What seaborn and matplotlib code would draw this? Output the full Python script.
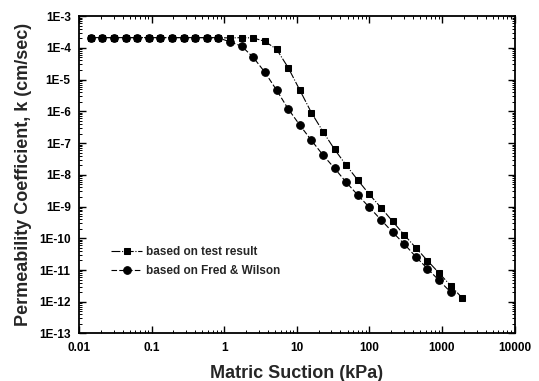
# permeability vs matric suction, log-log, two series
import numpy as np
import pandas as pd
import matplotlib
matplotlib.use('Agg')
import matplotlib.pyplot as plt
import seaborn as sns
from matplotlib.ticker import FixedLocator, FixedFormatter, LogLocator, NullFormatter

# data
# -----------------------------------------------------------------------------
suction = [0.0145, 0.0209, 0.0303, 0.0438, 0.0632, 0.0914, 0.132, 0.191,
           0.276, 0.399, 0.577, 0.834, 1.205, 1.742, 2.518, 3.639, 5.26,
           7.60, 10.99, 15.9, 22.96, 33.2, 48.0, 69.3, 100.2, 144.9, 209.4,
           302.7, 437.5, 632.4, 914.1, 1321, 1910]

k_test = [2.1e-4, 2.1e-4, 2.1e-4, 2.1e-4, 2.1e-4, 2.1e-4, 2.1e-4, 2.1e-4,
          2.1e-4, 2.1e-4, 2.1e-4, 2.1e-4, 2.05e-4, 2.1e-4, 2.05e-4, 1.6e-4,
          9.1e-5, 2.4e-5, 4.7e-6, 9.1e-7, 2.3e-7, 6.3e-8, 2.0e-8, 6.8e-9,
          2.4e-9, 9.2e-10, 3.4e-10, 1.27e-10, 5.0e-11, 1.96e-11, 8.0e-12,
          3.2e-12, 1.3e-12]

k_fred = [2.1e-4, 2.1e-4, 2.1e-4, 2.1e-4, 2.1e-4, 2.1e-4, 2.1e-4, 2.1e-4,
          2.1e-4, 2.1e-4, 2.1e-4, 2.05e-4, 1.55e-4, 1.13e-4, 5.0e-5, 1.7e-5,
          4.7e-6, 1.2e-6, 3.7e-7, 1.22e-7, 4.2e-8, 1.6e-8, 5.8e-9, 2.3e-9,
          9.4e-10, 3.8e-10, 1.55e-10, 6.6e-11, 2.6e-11, 1.1e-11, 4.7e-12,
          2.0e-12]

x_ticks = [0.01, 0.1, 1, 10, 100, 1000, 10000]
x_labels = ['0.01', '0.1', '1', '10', '100', '1000', '10000']
y_ticks = [10.0 ** e for e in range(-13, -2)]
y_labels = ['1E%d' % e for e in range(-13, -2)]
# -----------------------------------------------------------------------------

sns.set_style('ticks')
plt.rcParams['font.family'] = ['Liberation Sans', 'DejaVu Sans']
plt.rcParams['font.weight'] = 'bold'

df_test = pd.DataFrame({'suction': suction, 'k': k_test})
df_fred = pd.DataFrame({'suction': suction[:len(k_fred)], 'k': k_fred})

fig = plt.figure(figsize=(5.39, 3.81), dpi=100)
ax = fig.add_axes([0.1466, 0.1247, 0.808, 0.833])

sns.lineplot(data=df_test, x='suction', y='k', ax=ax,
             color='black', marker='s', markersize=5,
             markeredgecolor='black', linewidth=0.8,
             linestyle=(0, (8, 1.5, 1, 1.5)),
             label='based on test result')
sns.lineplot(data=df_fred, x='suction', y='k', ax=ax,
             color='black', marker='o', markersize=5.5,
             markeredgecolor='black', linewidth=0.8,
             linestyle=(0, (5, 2)),
             label='based on Fred & Wilson')

ax.set_xscale('log')
ax.set_yscale('log')
ax.set_xlim(0.01, 10000)
ax.set_ylim(1e-13, 1e-3)

ax.xaxis.set_major_locator(FixedLocator(x_ticks))
ax.xaxis.set_major_formatter(FixedFormatter(x_labels))
ax.yaxis.set_major_locator(FixedLocator(y_ticks))
ax.yaxis.set_major_formatter(FixedFormatter(y_labels))
ax.xaxis.set_minor_locator(LogLocator(base=10, subs=np.arange(2, 10), numticks=20))
ax.yaxis.set_minor_locator(LogLocator(base=10, subs=np.arange(2, 10), numticks=20))
ax.xaxis.set_minor_formatter(NullFormatter())
ax.yaxis.set_minor_formatter(NullFormatter())

ax.tick_params(which='both', direction='in', top=True, right=True,
               colors='black')
ax.tick_params(which='major', length=5, width=1.0, labelsize=8.5, pad=6)
ax.tick_params(which='minor', length=2.5, width=0.7)
for lab in ax.get_xticklabels() + ax.get_yticklabels():
    lab.set_fontweight('bold')
for sp in ax.spines.values():
    sp.set_linewidth(1.3)
    sp.set_color('black')

ax.set_xlabel('Matric Suction (kPa)', fontsize=13, fontweight='bold',
              labelpad=8)
ax.set_ylabel('Permeability Coefficient, k (cm/sec)', fontsize=13,
              fontweight='bold', labelpad=5)

ax.legend(loc='upper left', bbox_to_anchor=(0.05, 0.31), frameon=False,
          handlelength=2.6, handletextpad=0.3,
          labelspacing=0.6, prop={'weight': 'bold', 'size': 8.5})

fig.savefig('out.png', dpi=100)
